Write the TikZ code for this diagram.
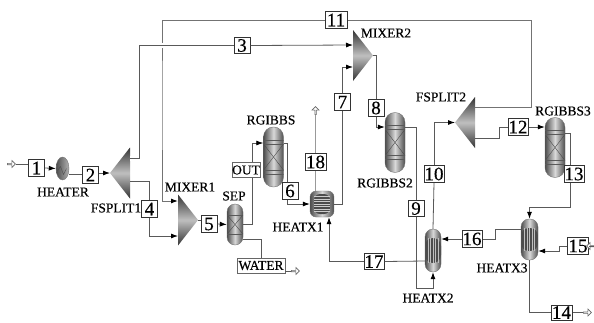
\documentclass[tikz,border=0pt]{standalone}
\usepackage{fontspec}
\setmainfont{Liberation Serif}[FakeBold=0.35]
\newfontfamily\pidfont{Liberation Serif}[FakeBold=0.35]
\usetikzlibrary{arrows.meta}
\usetikzlibrary{shapes.geometric,shapes.arrows}
\tikzset{
    stream/.style={draw=black!65,line width=0.8pt},
    feedline/.style={stream,-{Latex[length=7pt,width=5pt,black]}},
    numbox/.style={rectangle,draw=black!80,line width=1pt,fill=white,inner sep=0pt,
        minimum height=16.5pt,minimum width=16pt,font=\pidfont\fontsize{19}{19}\selectfont},
    namebox/.style={rectangle,draw=black!60,line width=0.7pt,fill=white,inner sep=0pt,
        minimum height=15pt,font=\pidfont\fontsize{13.5}{13.5}\selectfont},
    tag/.style={inner sep=0pt,font=\pidfont\fontsize{13.5}{13.5}\selectfont},
    feedtip/.style={single arrow,draw=black!60,fill=white,line width=0.6pt,inner sep=0pt,
        minimum height=8pt,minimum width=7pt,single arrow head extend=1.2pt},
    splitter/.style={isosceles triangle,isosceles triangle apex angle=54,isosceles triangle stretches,
        inner sep=0pt,outer sep=0pt,minimum width=51pt,minimum height=20pt,anchor=lower side,
        top color=black!80,bottom color=black!80,middle color=black!25},
    vessel/.style={rectangle,draw=black!55,line width=0.4pt,rounded corners=8pt,inner sep=0pt,
        left color=black!70,right color=black!70,middle color=black!15},
    reactor/.style={vessel,rounded corners=9.8pt,minimum width=20pt,minimum height=60pt,path picture={
        \draw[black!65,line width=0.7pt] ([yshift=-13pt]path picture bounding box.north west) -- ([yshift=-13pt]path picture bounding box.north east);
        \draw[black!65,line width=0.7pt] ([yshift=-17pt]path picture bounding box.north west) -- ([yshift=-17pt]path picture bounding box.north east);
        \draw[black!65,line width=0.7pt] ([yshift=13pt]path picture bounding box.south west) -- ([yshift=13pt]path picture bounding box.south east);
        \draw[black!65,line width=0.7pt] ([yshift=17pt]path picture bounding box.south west) -- ([yshift=17pt]path picture bounding box.south east);
        \draw[black!70,line width=0.4pt] ([yshift=-17pt]path picture bounding box.north west) -- ([yshift=17pt]path picture bounding box.south east);
        \draw[black!70,line width=0.4pt] ([yshift=-17pt]path picture bounding box.north east) -- ([yshift=17pt]path picture bounding box.south west);
    }},
    tubes/.style={vessel,path picture={
        \fill[black!70] ([yshift=-9pt]path picture bounding box.north west) rectangle ([yshift=9pt]path picture bounding box.south east);
        \foreach \tx in {-5,-2.5,0,2.5,5}
            \draw[black!25,line width=0.5pt] ([xshift=\tx pt,yshift=-9pt]path picture bounding box.north) -- ([xshift=\tx pt,yshift=9pt]path picture bounding box.south);
    }},
}
\begin{document}
\begin{tikzpicture}[x=1pt,y=-1pt]
    \useasboundingbox (0,0) rectangle (594,322);

    % unit blocks
    \node[ellipse,draw=black!55,line width=0.4pt,minimum width=13pt,minimum height=23pt,inner sep=0pt,
        left color=black!70,right color=black!30,path picture={
        \draw[black!70,line width=0.4pt] ([xshift=-5pt,yshift=-2pt]path picture bounding box.center) -- ++(3,-4) -- ++(3,8) -- ++(3,-6);
    }] (heater) at (62.5,168.5) {};
    \node[splitter,shape border rotate=180] (fsplit1) at (130,173) {};
    \node[splitter,shape border rotate=0] (mixer1) at (178,220) {};
    \node[splitter,shape border rotate=0] (mixer2) at (353,55.5) {};
    \node[splitter,shape border rotate=180] (fsplit2) at (475,122.5) {};
    \node[vessel,minimum width=16pt,minimum height=41pt,path picture={
        \draw[black!65,line width=0.6pt] ([yshift=-11pt]path picture bounding box.north west) -- ([yshift=-11pt]path picture bounding box.north east);
        \draw[black!65,line width=0.6pt] ([yshift=11pt]path picture bounding box.south west) -- ([yshift=11pt]path picture bounding box.south east);
        \draw[black!70,line width=0.4pt] ([yshift=-11pt]path picture bounding box.north west) -- ([yshift=11pt]path picture bounding box.south east);
        \draw[black!70,line width=0.4pt] ([yshift=-11pt]path picture bounding box.north east) -- ([yshift=11pt]path picture bounding box.south west);
    }] (sep) at (235,224.5) {};
    \node[reactor] (rgibbs) at (273.5,157) {};
    \node[reactor] (rgibbs2) at (395,142.5) {};
    \node[reactor] (rgibbs3) at (555,147.5) {};
    \node[vessel,rounded corners=6pt,minimum width=24pt,minimum height=26pt,path picture={
        \fill[black!70] ([xshift=4pt,yshift=-3pt]path picture bounding box.north west) rectangle ([xshift=-4pt,yshift=3pt]path picture bounding box.south east);
        \foreach \ty in {-7.5,-5,...,7.5}
            \draw[black!20,line width=0.5pt] ([xshift=4pt,yshift=\ty pt]path picture bounding box.west) -- ([xshift=-4pt,yshift=\ty pt]path picture bounding box.east);
    }] (heatx1) at (322,204) {};
    \node[tubes,minimum width=16pt,minimum height=43pt] (heatx2) at (433,250.5) {};
    \node[tubes,minimum width=17pt,minimum height=41pt] (heatx3) at (529.5,239.5) {};

    % block names
    \node[tag] (heatername) at (63,192) {HEATER};
    \node[tag] (fsplit1name) at (116,208) {FSPLIT1};
    \node[tag] (mixer1name) at (190,187) {MIXER1};
    \node[tag] (sepname) at (234,196) {SEP};
    \node[tag] (rgibbsname) at (271,120) {RGIBBS};
    \node[tag] (heatx1name) at (298,227) {HEATX1};
    \node[tag] (mixer2name) at (386,33) {MIXER2};
    \node[tag] (rgibbs2name) at (385,183) {RGIBBS2};
    \node[tag] (fsplit2name) at (441,97) {FSPLIT2};
    \node[tag] (rgibbs3name) at (563,111) {RGIBBS3};
    \node[tag] (heatx2name) at (428,298) {HEATX2};
    \node[tag] (heatx3name) at (502,268) {HEATX3};

    % stream numbers
    \node[numbox] (s1) at (36.5,168) {1};
    \node[numbox] (s2) at (90.5,175) {2};
    \node[numbox] (s3) at (242,45.5) {3};
    \node[numbox] (s4) at (149.5,209) {4};
    \node[numbox] (s5) at (209,224) {5};
    \node[numbox] (s6) at (290,191) {6};
    \node[numbox] (s7) at (342.5,102) {7};
    \node[numbox] (s8) at (376,108) {8};
    \node[numbox] (s9) at (416,208.5) {9};
    \node[numbox,minimum width=20pt] (s10) at (434,174) {10};
    \node[numbox,minimum width=22pt] (s11) at (336,20) {11};
    \node[numbox,minimum width=20pt] (s12) at (518,127) {12};
    \node[numbox,minimum width=20pt] (s13) at (574,174) {13};
    \node[numbox,minimum width=21pt,minimum height=15pt] (s14) at (561.5,312.5) {14};
    \node[numbox,minimum width=21pt] (s15) at (578,246) {15};
    \node[numbox,minimum width=20pt] (s16) at (472,239) {16};
    \node[numbox,minimum width=20pt] (s17) at (374,261.5) {17};
    \node[numbox,minimum width=21pt] (s18) at (315.5,162) {18};
    \node[namebox,minimum width=28pt] (out) at (246,170) {OUT};
    \node[namebox,minimum width=48pt] (water) at (261,265.5) {WATER};

    % open stream ends
    \node[feedtip] (feedin) at (11,164) {};
    \node[feedtip] (waterend) at (295,271) {};
    \node[feedtip,rotate=90] (s18end) at (315.5,111) {};
    \node[feedtip,rotate=180] (s15end) at (591,246) {};
    \node[feedtip] (s14end) at (587,312.5) {};

    % streams
    \draw[stream] (feedin.east) -- ([yshift=4pt]s1.west);
    \draw[feedline] (s1.east) -- (heater.west);
    \draw[stream] ([yshift=-5.5pt]heater.east) -- ([yshift=1pt]s2.west);
    \draw[feedline] ([yshift=2pt]s2.east) -- (fsplit1.apex);

    \draw[stream] ([yshift=-8pt]fsplit1.lower side) -| (s4.north);
    \draw[feedline] (s4.south) |- ([yshift=-16pt]mixer1.lower side);

    \draw[stream] (mixer1.apex) -- (s5.west |- mixer1.apex);
    \draw[feedline] (s5.east) -- (sep.west);
    \draw[stream] (sep.east) -| ([xshift=6pt]out.south);
    \draw[feedline] ([xshift=6pt]out.north) |- ([yshift=14pt]rgibbs.west);
    \draw[stream] ([yshift=-14.5pt]sep.east) -| (water.north);
    \draw[stream] ([yshift=-5.5pt]water.east) -- (waterend.west);

    \draw[stream] ([yshift=14pt]rgibbs.east) -| ([xshift=-3pt]s6.north);
    \draw[feedline] ([xshift=-3pt]s6.south) |- (heatx1.west);
    \draw[stream,draw=black!40,line width=1.2pt] ([xshift=-6.5pt]heatx1.north) -- (s18.south);
    \draw[stream,draw=black!40,line width=1.2pt] (s18.north) -- (s18end.west);
    \draw[stream] (heatx1.east) -| (s7.south);
    \draw[feedline] (s7.north) |- ([yshift=-11.5pt]mixer2.lower side);

    \draw[stream] (mixer2.apex) -- ++(3,0) -- (s8.north);
    \draw[feedline] (s8.south) |- ([yshift=15.5pt]rgibbs2.west);
    \draw[stream] ([yshift=15.5pt]rgibbs2.east) -| (s9.north);
    \draw[feedline] (s9.south) |- (416,288.5) -| (heatx2.south);
    \draw[stream] (heatx2.north) -- (s10.south);
    \draw[feedline] (s10.north) |- (fsplit2.apex);

    \draw[stream,line width=1pt,draw=black!55] ([yshift=15.5pt]fsplit2.lower side) -- (531,107) |- (s11.east);
    \draw[feedline,line width=1pt,draw=black!55] (s11.west) -| (162,100) |- ([yshift=19pt]mixer1.lower side);
    \draw[stream,preaction={draw=white,line width=5pt}] ([yshift=14.5pt]fsplit1.lower side) -- (139,158.5) |- (s3.west);
    \draw[feedline] (s3.east) -- ([yshift=10.5pt]mixer2.lower side);

    \draw[stream] ([yshift=-15.5pt]fsplit2.lower side) -- (499,138) |- (s12.west);
    \draw[feedline] (s12.east) -- (rgibbs3.west |- s12.east);
    \draw[stream] ([yshift=14.5pt]rgibbs3.east) -| ([xshift=-4pt]s13.north);
    \draw[feedline] ([xshift=-4pt]s13.south) |- (529.5,207) -- (heatx3.north);
    \draw[stream] ([yshift=10.5pt]heatx3.west) -- (495,229) |- (s16.east);
    \draw[feedline] (s16.west) -- (heatx2.east |- s16.west);
    \draw[stream] ([yshift=-10.5pt]heatx2.west) -- (s17.east);
    \draw[feedline] (s17.west) -| ([xshift=7pt]heatx1.south);
    \draw[stream] (heatx3.south) |- (s14.west);
    \draw[stream] (s14.east) -- (s14end.west);
    \draw[stream] (s15end.west) -- (s15.east);
    \draw[feedline] (s15.west) -- (559,246) |- ([yshift=-11.5pt]heatx3.east);
\end{tikzpicture}
\end{document}
